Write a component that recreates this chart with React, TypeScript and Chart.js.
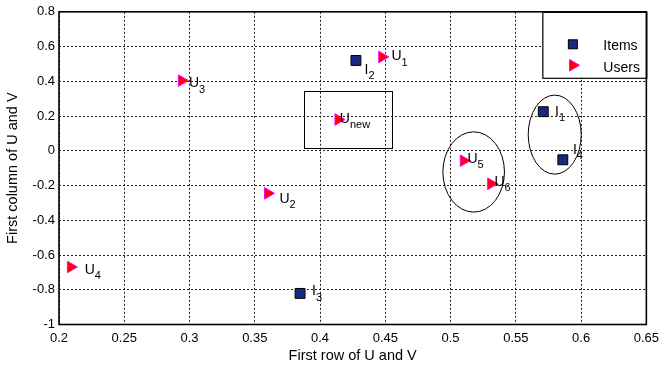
import React, { useEffect, useRef } from 'react';
import { Chart, registerables } from 'chart.js';

Chart.register(...registerables);

// ---- data ----
const xTicks = [0.2, 0.25, 0.3, 0.35, 0.4, 0.45, 0.5, 0.55, 0.6, 0.65];
const yTicks = [-1, -0.8, -0.6, -0.4, -0.2, 0, 0.2, 0.4, 0.6, 0.8];

const itemSubs = ['1', '2', '3', '4'];
const itemX = [0.571, 0.4275, 0.3847, 0.586];
const itemY = [0.225, 0.52, -0.821, -0.052];
const itemLabelX = [0.5808, 0.4349, 0.3946, 0.5945];
const itemLabelY = [0.201, 0.443, -0.831, -0.017];

const userSubs = ['1', '2', '3', '4', '5', '6', 'new'];
const userX = [0.4475, 0.36, 0.294, 0.209, 0.51, 0.531, 0.414];
const userY = [0.54, -0.245, 0.404, -0.669, -0.057, -0.19, 0.18];
const userLabelX = [0.4555, 0.3697, 0.3003, 0.2205, 0.5137, 0.5344, 0.4159];
const userLabelY = [0.52, -0.2997, 0.367, -0.7066, -0.069, -0.201, 0.16];

const ellipseCX = [0.5177, 0.5798];
const ellipseCY = [-0.122, 0.093];
const ellipseRX = [0.0236, 0.0203];
const ellipseRY = [0.231, 0.2275];

const boxX = [0.3877, 0.4554];
const boxY = [0.0155, 0.344];

const FONT = "'Liberation Sans', Arial, Helvetica, sans-serif";
const ITEM_FILL = '#172a80';
const USER_FILL = '#ff0000';
const USER_EDGE = '#ff00ff';

function drawSquare(ctx: CanvasRenderingContext2D, x: number, y: number, s: number) {
  ctx.fillStyle = ITEM_FILL;
  ctx.strokeStyle = '#000';
  ctx.lineWidth = 1;
  ctx.fillRect(x - s / 2, y - s / 2, s, s);
  ctx.strokeRect(x - s / 2, y - s / 2, s, s);
}

function drawTri(ctx: CanvasRenderingContext2D, x: number, y: number, r: number) {
  ctx.beginPath();
  ctx.moveTo(x + r, y);
  ctx.lineTo(x - r / 2, y - r * 0.866);
  ctx.lineTo(x - r / 2, y + r * 0.866);
  ctx.closePath();
  ctx.fillStyle = USER_FILL;
  ctx.strokeStyle = USER_EDGE;
  ctx.lineWidth = 1;
  ctx.fill();
  ctx.stroke();
}

function drawLabel(ctx: CanvasRenderingContext2D, main: string, sub: string, px: number, py: number) {
  ctx.fillStyle = '#000';
  ctx.textBaseline = 'alphabetic';
  ctx.textAlign = 'left';
  ctx.font = `14px ${FONT}`;
  ctx.fillText(main, px, py);
  const w = ctx.measureText(main).width;
  ctx.font = `11px ${FONT}`;
  ctx.fillText(sub, px + w, py + 5.5);
}

const fmt = (v: number) => String(Number(v.toFixed(2)));

export default function App() {
  const ref = useRef<HTMLCanvasElement>(null);

  useEffect(() => {
    const canvas = ref.current;
    if (!canvas) return;

    const annotations = {
      id: 'annotations',
      beforeDatasetsDraw(chart: any) {
        const { ctx, scales } = chart;
        const x = scales.x;
        const y = scales.y;
        ctx.save();
        ctx.strokeStyle = '#000';
        ctx.lineWidth = 1;
        ctx.setLineDash([]);
        const bx0 = x.getPixelForValue(boxX[0]);
        const bx1 = x.getPixelForValue(boxX[1]);
        const by0 = y.getPixelForValue(boxY[1]);
        const by1 = y.getPixelForValue(boxY[0]);
        ctx.strokeRect(Math.round(bx0) + 0.5, Math.round(by0) + 0.5, Math.round(bx1 - bx0), Math.round(by1 - by0));
        for (let i = 0; i < ellipseCX.length; i++) {
          const cx = x.getPixelForValue(ellipseCX[i]);
          const cy = y.getPixelForValue(ellipseCY[i]);
          const rx = Math.abs(x.getPixelForValue(ellipseCX[i] + ellipseRX[i]) - cx);
          const ry = Math.abs(y.getPixelForValue(ellipseCY[i] + ellipseRY[i]) - cy);
          ctx.beginPath();
          ctx.ellipse(cx, cy, rx, ry, 0, 0, Math.PI * 2);
          ctx.stroke();
        }
        ctx.restore();
      },
      afterDatasetsDraw(chart: any) {
        const { ctx, scales } = chart;
        const x = scales.x;
        const y = scales.y;
        ctx.save();
        for (let i = 0; i < itemSubs.length; i++) {
          drawLabel(ctx, 'I', itemSubs[i], x.getPixelForValue(itemLabelX[i]) - 1, y.getPixelForValue(itemLabelY[i]));
        }
        for (let i = 0; i < userSubs.length; i++) {
          drawLabel(ctx, 'U', userSubs[i], x.getPixelForValue(userLabelX[i]) - 1, y.getPixelForValue(userLabelY[i]));
        }
        ctx.restore();
      },
      afterDraw(chart: any) {
        const { ctx, chartArea } = chart;
        const { left, right, top, bottom } = chartArea;
        ctx.save();
        ctx.setLineDash([]);
        // legend
        const lw = 104;
        const lh = 66;
        const lx = right - lw;
        const ly = top;
        ctx.fillStyle = '#fff';
        ctx.fillRect(lx, ly, lw, lh);
        ctx.strokeStyle = '#000';
        ctx.lineWidth = 1.2;
        ctx.strokeRect(lx + 0.5, ly + 0.5, lw, lh);
        drawSquare(ctx, lx + 30.5, ly + 32.5, 9);
        drawTri(ctx, lx + 30.5, ly + 53.5, 6.7);
        ctx.fillStyle = '#000';
        ctx.font = `14px ${FONT}`;
        ctx.textBaseline = 'middle';
        ctx.textAlign = 'left';
        const names = chart.data.datasets.map((d: any) => d.label);
        ctx.fillText(names[0], lx + 61, ly + 34.5);
        ctx.fillText(names[1], lx + 61, ly + 56);
        // axes box
        ctx.strokeStyle = '#000';
        ctx.lineWidth = 1.6;
        ctx.strokeRect(left, top, right - left, bottom - top);
        ctx.restore();
      },
    };

    const tickFont = { family: FONT, size: 13 };
    const titleFont = { family: FONT, size: 14.5 };

    const chart = new Chart(canvas, {
      type: 'scatter',
      data: {
        datasets: [
          {
            label: 'Items',
            data: itemX.map((v, i) => ({ x: v, y: itemY[i] })),
            pointStyle: 'rect',
            pointRadius: 7,
            pointHoverRadius: 7,
            backgroundColor: ITEM_FILL,
            borderColor: '#000',
            borderWidth: 1,
          },
          {
            label: 'Users',
            data: userX.map((v, i) => ({ x: v, y: userY[i] })),
            pointStyle: 'triangle',
            rotation: 90,
            pointRadius: 6.7,
            pointHoverRadius: 6.7,
            backgroundColor: USER_FILL,
            borderColor: USER_EDGE,
            borderWidth: 1,
          },
        ],
      },
      options: {
        responsive: false,
        animation: false,
        events: [],
        layout: { padding: { left: 0, right: 14, top: 10, bottom: 0 } },
        plugins: {
          legend: { display: false },
          tooltip: { enabled: false },
        },
        scales: {
          x: {
            type: 'linear',
            min: 0.2,
            max: 0.65,
            afterBuildTicks: (s: any) => {
              s.ticks = xTicks.map((v) => ({ value: v }));
            },
            afterFit: (s: any) => {
              s.height = 42.5;
            },
            ticks: {
              font: tickFont,
              color: '#000',
              padding: 6,
              maxRotation: 0,
              autoSkip: false,
              callback: (v: any) => fmt(Number(v)),
            },
            grid: { color: '#222', lineWidth: 1, drawTicks: false },
            border: { display: false, dash: [2, 2] },
            title: {
              display: true,
              text: 'First row of U and V',
              font: titleFont,
              color: '#000',
              padding: { top: 0, bottom: 2.3 },
            },
          },
          y: {
            type: 'linear',
            min: -1,
            max: 0.8,
            afterBuildTicks: (s: any) => {
              s.ticks = yTicks.map((v) => ({ value: v }));
            },
            afterFit: (s: any) => {
              s.width = 59;
            },
            ticks: {
              font: tickFont,
              color: '#000',
              padding: 4,
              autoSkip: false,
              callback: (v: any) => fmt(Number(v)),
            },
            grid: { color: '#222', lineWidth: 1, drawTicks: false },
            border: { display: false, dash: [2, 2] },
            title: {
              display: true,
              text: 'First column of U and V',
              font: titleFont,
              color: '#000',
              padding: { top: 4.3, bottom: 0 },
            },
          },
        },
      },
      plugins: [annotations],
    });

    return () => chart.destroy();
  }, []);

  return (
    <div style={{ position: 'fixed', left: 0, top: 0, width: 665, height: 367, background: '#fff' }}>
      <canvas ref={ref} width={665} height={367} style={{ display: 'block' }} />
    </div>
  );
}
